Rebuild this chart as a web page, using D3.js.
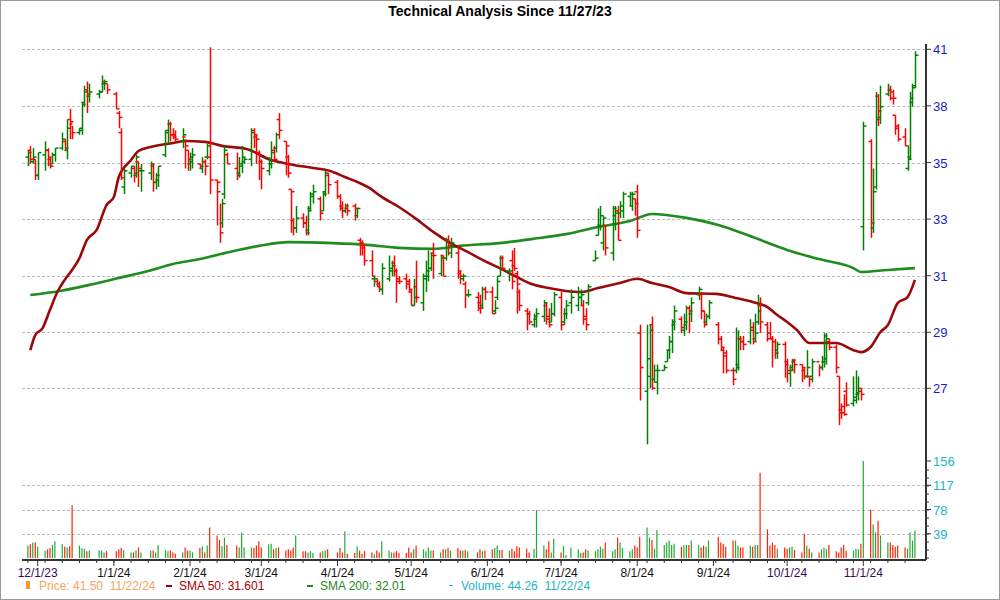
<!DOCTYPE html>
<html><head><meta charset="utf-8">
<script src="https://cdn.jsdelivr.net/npm/d3@7"></script>
<style>body{margin:0;background:#fff}svg{font-family:"Liberation Sans",Arial,sans-serif}.lg text{white-space:pre}</style>
</head><body><svg id="c" width="1000" height="600"></svg>
<script>
const startDate="2023-11-27", endDate="2024-11-22";
const holidays=["2023-12-25","2024-01-01","2024-01-15","2024-02-19","2024-03-29","2024-05-27","2024-06-19","2024-07-04","2024-09-02","2024-11-28"];
const highs=[36.2,36.4,36.3,35.8,36.1, 36.6,36.3,35.9,36.1,36.3, 37.0,36.7,37.6,38.1,37.3, 37.2,38.4,39.2,39.4,39.3, 39.0,39.7,39.5,39.3,
38.9,38.0,37.2,35.4, 35.5,35.5,36.0,35.7,35.6, 35.7,35.6,35.2,35.5, 37.1,37.6,37.5,37.2,37.1, 37.2,36.7,36.2,
36.1,36.3, 35.6,35.9,35.8,36.5,41.1, 34.9,33.9,34.1,36.4,36.1, 36.1,35.9,36.4,35.9, 37.2,37.2,36.9,36.2,
35.8, 35.9,36.6,36.4,37.0,37.9, 36.6,36.0,34.5,33.3,33.8, 33.5,33.4,33.8,34.4,34.7, 34.2,34.4,35.3,35.2,
34.9,34.3,34.0,33.9,33.9, 33.9,33.7,32.5,32.4,32.2, 32.0,31.0,30.9,30.8,31.5, 31.8,31.6,31.8,31.3,31.0, 31.1,30.9,
30.5,30.9,31.6, 31.1,31.6,32.0,31.9,32.3, 31.8,31.8,32.5,32.6,32.5, 32.2,31.2,31.1,30.8,30.5, 30.4,30.3,30.6,30.6,
30.6,30.1,31.0,31.8,31.8, 31.3,32.0,32.1,31.2,30.5, 29.8,29.7,29.6,29.8, 30.1,30.0,29.8,30.0,30.4,
30.4,29.8,30.1,30.5, 30.6,30.5,30.1,29.8,30.7, 32.0,33.7,33.8,33.4,33.0, 33.8,33.8,33.8,34.0,34.4, 34.4,34.4,34.1,
34.7,29.2, 29.2,29.2,29.5,27.8,27.8, 27.8,28.3,28.8,29.4,29.9, 29.5,29.6,29.9,29.9,30.2, 30.6,30.4,29.7,29.6,30.1,
29.3,28.8,28.4,28.3, 27.7,29.1,29.0,28.8,28.8, 29.4,29.3,29.6,30.3,30.2, 29.3,29.3,28.8,28.7,28.6, 28.6,
28.0,27.8,28.0,28.0, 27.8,27.7,28.3,27.4,28.0, 27.8,28.1,28.9,28.9,28.7, 28.5,27.4,26.5,26.8,27.2, 27.4,27.6,27.4,27.0,
37.5, 36.7,35.4,38.9,38.8,39.2, 39.3,39.2,39.0,37.8,37.4, 37.2,36.4,38.9,39.3,40.9];
const lows=[35.5,35.6,35.6,34.9,34.9, 35.3,35.5,35.4,35.6,35.7, 36.2,36.2,35.8,36.7,36.7, 36.9,36.9,38.2,37.9,38.4, 38.6,38.9,39.0,38.8,
38.1,37.2,34.9,34.3, 35.0,34.8,35.0,34.6,34.4, 34.9,34.4,34.5,34.6, 35.9,36.5,36.6,36.7,36.6, 36.3,35.4,35.3,
35.3,35.4, 35.4,35.2,35.1,35.8,34.3, 33.0,32.3,32.9,34.1,35.6, 34.9,35.0,35.2,35.6, 35.5,36.3,35.6,34.9,
34.5, 35.1,35.4,35.7,36.1,36.7, 35.1,35.0,32.7,32.6,32.7, 32.9,32.6,32.6,33.6,33.9, 33.2,33.6,34.2,34.3,
34.1,33.6,33.3,33.5,33.4, 33.2,33.3,31.8,31.8,31.4, 31.0,30.6,30.6,30.4,30.3, 30.8,31.0,31.0,30.0,30.7, 30.5,30.4,
29.9,29.9,30.0, 29.7,30.4,30.8,31.2,30.9, 31.0,31.0,31.6,31.8,31.7, 30.9,30.7,30.8,29.8,30.2, 29.7,29.6,29.8,30.1,
29.6,29.6,30.1,31.0,31.2, 30.8,30.5,31.2,29.6,29.7, 29.0,29.2,29.1,29.1, 29.3,29.2,29.1,29.3,29.5,
29.0,29.2,29.4,29.6, 29.7,29.9,29.2,29.0,29.9, 31.6,32.6,32.8,32.0,31.8, 31.6,32.8,32.4,33.3,33.3, 33.8,33.6,33.4,
32.5,26.6, 25.2,27.0,26.95,27.2,26.8, 27.6,27.9,28.0,28.2,29.0, 28.9,28.8,29.0,28.9,29.3, 30.1,29.4,29.1,29.2,29.4,
28.5,28.3,27.5,27.5, 27.1,27.5,27.6,28.3,28.3, 28.5,28.5,28.6,29.2,28.9, 28.6,28.7,27.7,28.0,28.0, 27.35,
27.2,27.05,27.6,27.5, 27.2,27.3,27.35,27.05,27.2, 27.4,27.6,27.7,27.8,28.3, 27.5,25.8,26.0,26.1,26.4, 26.4,26.5,26.6,26.6,
32.0, 32.5,32.7,34.5,37.3,37.4, 38.7,38.5,38.3,36.9,36.6, 36.4,35.3,35.8,38.2,39.1];
const closes=[36.1,35.8,35.9,35.1,36.1, 36.2,35.9,35.5,36.0,36.3, 36.7,36.3,37.2,37.5,37.0, 37.2,38.3,38.9,38.8,38.9, 38.9,39.4,39.4,39.0,
38.1,37.7,35.0,35.3, 35.5,35.2,35.9,35.4,35.3, 35.6,34.8,35.1,35.5, 37.1,37.4,36.9,36.8,36.7, 36.9,36.4,35.8,
35.9,36.0, 35.5,35.7,35.5,36.4,34.9, 34.8,32.7,33.9,36.2,35.6, 35.1,35.6,35.9,35.8, 37.0,36.9,36.7,35.7,
35.4, 35.6,36.1,35.8,36.9,37.1, 36.4,35.2,34.4,32.9,33.3, 33.1,32.7,33.6,34.3,34.4, 33.5,34.3,35.2,34.7,
34.2,33.7,33.6,33.8,33.6, 33.7,33.7,32.3,32.2,31.6, 31.0,30.9,30.6,30.5,31.3, 31.3,31.4,31.2,30.8,30.8, 30.7,30.5,
29.9,30.2,30.2, 31.0,31.2,31.3,31.8,31.8, 31.7,31.0,32.4,32.2,32.3, 31.2,31.0,31.0,30.3,30.3, 29.8,29.8,30.5,30.4,
29.6,29.8,30.8,31.7,31.3, 31.2,30.8,31.3,30.7,29.9, 29.6,29.3,29.5,29.6, 30.0,29.4,29.2,29.6,30.3,
29.2,29.6,29.9,30.2, 30.2,30.3,29.4,29.2,30.6, 31.7,33.0,33.4,33.3,32.1, 33.7,33.5,32.4,33.8,34.3, 34.3,34.3,33.9,
32.8,27.7, 28.0,29.0,27.0,27.6,27.6, 27.7,28.3,28.6,29.3,29.7, 29.1,29.3,29.8,29.7,30.0, 30.5,29.7,29.2,29.5,30.0,
28.7,28.4,28.2,27.6, 27.3,27.7,28.7,28.6,28.5, 29.0,28.6,28.9,29.7,29.3, 28.7,28.7,28.6,28.2,28.5, 27.8,
27.6,27.6,27.95,27.8, 27.7,27.4,27.7,27.3,27.9, 27.7,27.9,28.8,28.7,28.4, 27.7,26.2,26.2,26.15,26.45, 26.7,26.85,26.9,26.8,
37.3, 33.1,34.4,37.6,38.0,38.2, 39.0,38.6,38.6,37.3,36.7, 36.4,35.8,38.6,39.1,40.7];
const opens=[35.9,36.2,35.7,35.8,35.1, 36.0,36.2,35.8,35.6,36.0, 36.3,36.6,36.2,37.6,37.4, 37.0,37.1,38.4,39.0,38.7, 38.8,38.9,39.3,39.3,
38.8,37.9,37.0,34.6, 35.2,35.4,35.1,35.7,35.3, 35.2,35.5,34.8,34.9, 36.0,37.0,37.4,36.9,36.9, 36.6,36.8,36.2,
35.6,35.7, 35.6,35.4,35.7,35.9,35.9, 34.9,34.4,33.1,34.3,36.0, 35.4,35.2,35.5,35.7, 35.8,37.1,36.8,36.1,
35.7, 35.3,35.6,36.2,36.3,37.6, 36.6,35.9,34.5,33.2,32.9, 33.3,33.1,32.8,33.7,34.2, 34.1,33.6,34.4,35.1,
34.8,34.2,33.8,33.6,33.7, 33.8,33.4,32.4,32.3,32.1, 31.6,30.9,30.8,30.7,30.5, 30.9,31.2,31.5,31.2,30.9, 30.9,30.8,
30.4,29.9,30.6, 30.0,30.9,31.0,31.3,31.9, 31.1,31.8,31.7,32.4,31.9, 31.9,31.1,30.9,30.7,30.3, 30.2,30.0,29.9,30.5,
30.4,29.7,30.2,31.0,31.7, 31.2,31.6,31.4,31.1,30.4, 29.7,29.6,29.2,29.4, 29.5,29.9,29.5,29.3,29.6,
30.2,29.3,29.6,30.0, 29.9,30.2,29.9,29.5,30.0, 31.6,32.6,33.0,32.3,33.0, 31.9,33.4,33.6,33.5,33.6, 34.2,33.8,34.1,
34.4,28.9, 26.9,27.4,29.2,27.3,27.2, 27.6,27.9,28.3,28.6,29.2, 29.4,29.0,29.2,29.8,29.6, 30.3,30.3,29.7,29.3,29.5,
29.2,28.7,28.3,28.1, 27.6,27.6,27.8,28.7,28.6, 28.6,29.1,28.7,29.3,29.9, 29.2,28.9,28.7,28.6,28.3, 28.5,
27.9,27.5,27.7,27.9, 27.8,27.6,27.4,27.4,27.4, 27.9,27.7,27.9,28.0,28.6, 28.4,27.4,26.3,26.4,26.9, 26.5,26.6,26.8,27.0,
32.95, 36.6,32.9,34.6,38.7,37.7, 38.8,39.0,38.9,37.8,37.2, 36.8,35.4,35.9,38.4,39.2];
const volumes=[20,22,25,25,18, 12,14,16,21,27, 22,18,17,19,85, 20,16,15,11,12, 12,12,9,11,
11,14,16,13, 9,9,12,17,9, 12,12,9,21, 13,11,12,9,7, 9,17,12,
12,9, 16,19,9,20,49, 36,29,19,33,21, 20,17,41,17, 17,16,20,27,
17, 22,23,14,16,17, 12,14,12,17,36, 11,11,9,11,8, 9,11,12,14,
9,16,9,43,7, 8,19,12,7,11, 9,6,12,9,27, 12,9,9,11,8, 8,17,
9,14,20, 14,11,17,12,12, 9,14,14,16,12, 16,12,12,13,11, 9,14,11,12,
14,16,20,13,13, 12,15,11,19,17, 15,9,15,77, 20,14,27,9,31,
9,19,5,17, 14,8,9,14,12, 11,14,18,15,25, 11,14,33,25,16, 11,14,20,
17,34, 49,33,29,15,45, 21,25,28,21,23, 18,20,21,21,28, 21,17,20,18,28,
34,25,23,18, 28,28,20,17,17, 20,18,21,21,137, 46,20,25,21,15, 17,
15,17,18,13, 9,39,20,15,9, 9,14,17,14,21, 11,9,17,21,12, 12,15,14,23,
156, 78,54,41,60,36, 25,25,21,18,20, 17,15,41,28,44];
const sma50Dates=["2023-11-28","2023-11-30","2023-12-03","2023-12-06","2023-12-09","2023-12-12","2023-12-15","2023-12-18","2023-12-21","2023-12-25","2023-12-29","2024-01-01","2024-01-03","2024-01-08","2024-01-11","2024-01-16","2024-01-25","2024-01-30","2024-02-07","2024-02-14","2024-02-24","2024-03-05","2024-03-12","2024-03-22","2024-03-29","2024-04-04","2024-04-10","2024-04-14","2024-04-19","2024-04-26","2024-05-03","2024-05-10","2024-05-17","2024-05-24","2024-05-30","2024-06-06","2024-06-13","2024-06-19","2024-06-26","2024-07-03","2024-07-09","2024-07-16","2024-07-25","2024-08-01","2024-08-07","2024-08-14","2024-08-21","2024-09-02","2024-09-10","2024-09-17","2024-09-23","2024-09-27","2024-10-01","2024-10-05","2024-10-10","2024-10-21","2024-10-28","2024-10-31","2024-11-04","2024-11-08","2024-11-11","2024-11-15","2024-11-19","2024-11-22"];
const sma50Values=[28.30,28.83,29.08,29.74,30.40,30.86,31.24,31.70,32.41,32.82,33.84,34.18,35.03,35.77,36.17,36.35,36.53,36.62,36.58,36.40,36.26,35.77,35.60,35.42,35.29,35.03,34.77,34.56,34.18,33.76,33.27,32.74,32.29,31.94,31.63,31.31,30.97,30.70,30.55,30.44,30.40,30.55,30.74,30.90,30.74,30.59,30.36,30.33,30.18,30.03,29.84,29.55,29.30,29.01,28.55,28.55,28.30,28.23,28.41,28.94,29.19,29.99,30.21,30.86];
const sma200Dates=["2023-11-28","2023-12-10","2023-12-22","2024-01-03","2024-01-15","2024-01-25","2024-02-05","2024-02-17","2024-02-29","2024-03-12","2024-03-30","2024-04-13","2024-04-26","2024-05-10","2024-05-21","2024-06-06","2024-06-19","2024-07-03","2024-07-16","2024-07-29","2024-08-07","2024-08-21","2024-09-03","2024-09-17","2024-10-01","2024-10-14","2024-10-28","2024-10-31","2024-11-11","2024-11-22"];
const sma200Values=[30.29,30.44,30.67,30.93,31.20,31.47,31.66,31.94,32.18,32.33,32.29,32.22,32.10,32.06,32.18,32.29,32.45,32.65,32.94,33.18,33.47,33.31,33.02,32.53,32.02,31.66,31.31,31.16,31.24,31.31];
const priceTickValues=[41,38.24,35.66,33.26,31.02,28.93,27];
const priceTickLabels=["41","38","35","33","31","29","27"];
const volTicks=[39,78,117,156];
const monthTicks=["2023-12-01","2024-01-01","2024-02-01","2024-03-01","2024-04-01","2024-05-01","2024-06-01","2024-07-01","2024-08-01","2024-09-01","2024-10-01","2024-11-01"];
const legendTexts=["Price: 41.50  11/22/24","SMA 50: 31.601","SMA 200: 32.01","Volume: 44.26  11/22/24"];

const parse=d3.utcParse("%Y-%m-%d"), fmt=d3.utcFormat("%Y-%m-%d");
const days=[];
for(let d=parse(startDate);d<=parse(endDate);d=d3.utcDay.offset(d,1)){
  const w=d.getUTCDay(); if(w===0||w===6) continue; if(holidays.includes(fmt(d))) continue; days.push(new Date(d));
}
const bars=days.map((d,i)=>({d,o:opens[i],h:highs[i],l:lows[i],c:closes[i],v:volumes[i]})).filter(b=>b.c!=null);

const svg=d3.select("#c");
const x=d3.scaleUtc().domain([parse("2023-12-01"),parse("2024-11-01")]).range([37.7,863.3]);
const y=d3.scaleLog().domain([27,41]).range([388.3,49.3]);
const yv=d3.scaleLinear().domain([0,156]).range([558,461]);
const L=22,R=926;

svg.append("rect").attr("x",0.5).attr("y",0.5).attr("width",999).attr("height",599).attr("fill","none").attr("stroke","#999");
svg.append("text").attr("x",500).attr("y",16).attr("text-anchor","middle").attr("font-size",14).attr("font-weight","bold").text("Technical Analysis Since 11/27/23");

const grid=svg.append("g").attr("stroke","#bbb").attr("stroke-dasharray","3,2").attr("stroke-width",1);
priceTickValues.forEach(v=>grid.append("line").attr("x1",L).attr("x2",R).attr("y1",Math.round(y(v))+.5).attr("y2",Math.round(y(v))+.5));
volTicks.slice(0,3).forEach(v=>grid.append("line").attr("x1",L).attr("x2",R).attr("y1",Math.round(yv(v))+.5).attr("y2",Math.round(yv(v))+.5));

svg.append("g").selectAll("line").data(bars).join("line")
 .attr("x1",b=>x(b.d)).attr("x2",b=>x(b.d)).attr("y1",yv(0)).attr("y2",b=>yv(b.v))
 .attr("stroke",b=>b.c>=b.o?"#22aa33":"#ff2200").attr("stroke-width",1.2);

const lineGen=d3.line().x(p=>x(p[0])).y(p=>y(p[1])).curve(d3.curveMonotoneX);
svg.append("path").attr("d",lineGen(sma200Dates.map((d,i)=>[parse(d),sma200Values[i]]))).attr("fill","none").attr("stroke","#1e8c1e").attr("stroke-width",2.6);
svg.append("path").attr("d",lineGen(sma50Dates.map((d,i)=>[parse(d),sma50Values[i]]))).attr("fill","none").attr("stroke","#9a0a0a").attr("stroke-width",2.6);

const g=svg.append("g").attr("stroke-width",1.5);
bars.forEach(b=>{
  const col=b.c>=b.o?"#008000":"#ff0000", cx=Math.round(x(b.d))+.5;
  g.append("line").attr("x1",cx).attr("x2",cx).attr("y1",y(b.h)).attr("y2",y(b.l)).attr("stroke",col);
  g.append("line").attr("x1",cx-3).attr("x2",cx).attr("y1",y(b.o)).attr("y2",y(b.o)).attr("stroke",col);
  g.append("line").attr("x1",cx).attr("x2",cx+3).attr("y1",y(b.c)).attr("y2",y(b.c)).attr("stroke",col);
});

svg.append("line").attr("x1",R).attr("x2",R).attr("y1",44).attr("y2",560).attr("stroke","#333").attr("stroke-width",2);
svg.append("line").attr("x1",L).attr("x2",R).attr("y1",560).attr("y2",560).attr("stroke","#333").attr("stroke-width",2);
priceTickValues.forEach((v,i)=>{
  svg.append("line").attr("x1",R).attr("x2",R+5).attr("y1",y(v)).attr("y2",y(v)).attr("stroke","#333");
  svg.append("text").attr("x",933).attr("y",y(v)+5).attr("font-size",13).attr("fill","#1a1acc").text(priceTickLabels[i]);
});
volTicks.forEach(v=>{
  svg.append("line").attr("x1",R).attr("x2",R+5).attr("y1",yv(v)).attr("y2",yv(v)).attr("stroke","#333");
  svg.append("text").attr("x",933).attr("y",yv(v)+5).attr("font-size",13).attr("fill","#22b5c5").text(v);
});
d3.range(470,560,8).forEach(t=>svg.append("line").attr("x1",R).attr("x2",R+3).attr("y1",t).attr("y2",t).attr("stroke","#333"));
const xfmt=d3.utcFormat("%-m/%-d/%y");
monthTicks.forEach(m=>{
  const d=parse(m), xx=x(d);
  svg.append("line").attr("x1",xx).attr("x2",xx).attr("y1",560).attr("y2",566).attr("stroke","#333");
  svg.append("text").attr("x",xx).attr("y",577).attr("text-anchor","middle").attr("font-size",12)
    .attr("fill",d.getUTCMonth()>=9?"#3a0a5a":"#111").text(xfmt(d));
});
d3.utcMonday.range(parse(startDate),parse(endDate)).forEach(d=>svg.append("line").attr("x1",x(d)).attr("x2",x(d)).attr("y1",560).attr("y2",563).attr("stroke","#333"));

const lg=svg.append("g").attr("class","lg").attr("font-size",12);
lg.append("rect").attr("x",26).attr("y",581).attr("width",4).attr("height",8).attr("fill","#f0962a");
lg.append("text").attr("x",39).attr("y",590).attr("fill","#f4a460").text(legendTexts[0]);
lg.append("rect").attr("x",166).attr("y",585).attr("width",6).attr("height",2).attr("fill","#aa0000");
lg.append("text").attr("x",179).attr("y",590).attr("fill","#aa0000").text(legendTexts[1]);
lg.append("rect").attr("x",307).attr("y",585).attr("width",6).attr("height",2).attr("fill","#228822");
lg.append("text").attr("x",320).attr("y",590).attr("fill","#228822").text(legendTexts[2]);
lg.append("rect").attr("x",449).attr("y",585).attr("width",4).attr("height",1).attr("fill","#22b5c5");
lg.append("text").attr("x",461).attr("y",590).attr("fill","#22b5c5").text(legendTexts[3]);
</script></body></html>
